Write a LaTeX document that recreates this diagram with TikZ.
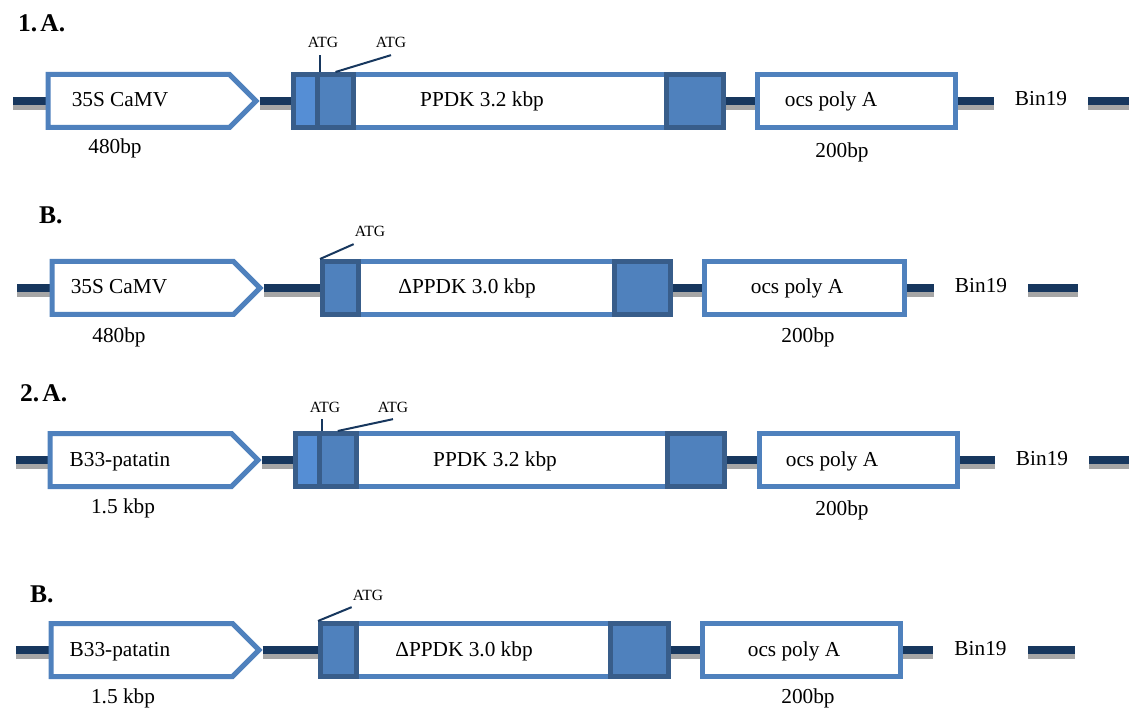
\documentclass[tikz,border=0pt]{standalone}
\usepackage{fontspec}
\setmainfont{Liberation Serif}
\usetikzlibrary{shapes.symbols,backgrounds}

\definecolor{dnanavy}{HTML}{17375E}
\definecolor{dnagrey}{HTML}{A6A6A6}
\definecolor{boxblue}{HTML}{4F81BD}
\definecolor{exonfill}{HTML}{4F81BD}
\definecolor{exonedge}{HTML}{385D8A}
\definecolor{exonlite}{HTML}{558ED5}

\tikzset{
  dna/.style={draw=dnanavy, line width=8pt,
    preaction={draw=dnagrey, line width=8pt, transform canvas={yshift=-5pt}}},
  promoter/.style={signal, signal to=east, draw=boxblue, line width=5pt, fill=white,
    minimum width=208pt, minimum height=53pt, inner sep=0pt, anchor=west},
  region/.style={rectangle, draw=boxblue, line width=5pt, fill=white,
    minimum height=53pt, inner sep=0pt},
  exon/.style={rectangle, draw=exonedge, fill=exonfill, line width=5pt,
    minimum height=53pt, inner sep=0pt},
  leader/.style={exon, fill=exonlite},
  lbl/.style={font=\fontsize{21.3}{25}\selectfont, inner sep=0pt, anchor=base},
  bin/.style={lbl, inner xsep=21pt},
  atg/.style={font=\fontsize{15.6}{18}\selectfont, inner sep=1pt, outer ysep=6pt, anchor=base},
  hdr/.style={font=\fontsize{25.5}{30}\selectfont\bfseries, inner sep=0pt, anchor=base west},
  tick/.style={draw=dnanavy, line width=2pt},
}

\begin{document}
\begin{tikzpicture}[x=1pt, y=-1pt]
  \useasboundingbox (0,0) rectangle (1129,708);

  % 1. A.
  \node[hdr] (h1) at (18,32) {1.\hspace{0.12em}A.};
  \node[promoter] (pro1) at (45.5,101) {};
  \node[region, minimum width=313pt] (gene1) at (510,101) {};
  \node[leader, minimum width=24pt] (lead1) at (305.5,101) {};
  \node[exon, minimum width=36pt] (start1) at (335.5,101) {};
  \node[exon, minimum width=57pt] (stop1) at (695,101) {};
  \node[region, minimum width=198pt] (ocs1) at (856.5,101) {};
  \node[lbl] (tp1) at (120,107) {35S CaMV};
  \node[lbl] (tg1) at (482,107) {PPDK 3.2 kbp};
  \node[lbl] (to1) at (831,107) {ocs poly A};
  \node[bin] (bin1) at (1041,106) {Bin19};
  \node[lbl] (sp1) at (115,154) {480bp};
  \node[lbl] (so1) at (842,158) {200bp};
  \node[atg] (atgA1) at (323,48) {ATG};
  \node[atg] (atgB1) at (391,48) {ATG};
  \coordinate (le1) at (13,101);
  \coordinate (re1) at (1129,101);
  \draw[tick] (lead1.north east) -- (lead1.north east |- atgA1.south);
  \draw[tick] (atgB1.south) -- (start1.north);

  % B.
  \node[hdr] (h2) at (39,224) {B.};
  \node[promoter] (pro2) at (49.5,288) {};
  \node[region, minimum width=256pt] (gene2) at (486.5,288) {};
  \node[exon, minimum width=36pt] (start2) at (340.5,288) {};
  \node[exon, minimum width=56pt] (stop2) at (642.5,288) {};
  \node[region, minimum width=200pt] (ocs2) at (804.5,288) {};
  \node[lbl] (tp2) at (119,294) {35S CaMV};
  \node[lbl] (tg2) at (467,294) {ΔPPDK 3.0 kbp};
  \node[lbl] (to2) at (797,294) {ocs poly A};
  \node[bin] (bin2) at (981,293) {Bin19};
  \node[lbl] (sp2) at (119,342) {480bp};
  \node[lbl] (so2) at (808,342) {200bp};
  \node[atg] (atgA2) at (370,237) {ATG};
  \coordinate (le2) at (17,288);
  \coordinate (re2) at (1078,288);
  \draw[tick] (atgA2.south west) -- (start2.north west);

  % 2. A.
  \node[hdr] (h3) at (20,401) {2.\hspace{0.12em}A.};
  \node[promoter] (pro3) at (47.5,460) {};
  \node[region, minimum width=311.5pt] (gene3) at (511.75,460) {};
  \node[leader, minimum width=24pt] (lead3) at (307.5,460) {};
  \node[exon, minimum width=36.5pt] (start3) at (337.75,460) {};
  \node[exon, minimum width=57pt] (stop3) at (696,460) {};
  \node[region, minimum width=198pt] (ocs3) at (858.5,460) {};
  \node[lbl] (tp3) at (120,466) {B33-patatin};
  \node[lbl] (tg3) at (495,466) {PPDK 3.2 kbp};
  \node[lbl] (to3) at (832,466) {ocs poly A};
  \node[bin] (bin3) at (1042,465) {Bin19};
  \node[lbl] (sp3) at (123,513) {1.5 kbp};
  \node[lbl] (so3) at (842,515) {200bp};
  \node[atg] (atgA3) at (325,412) {ATG};
  \node[atg] (atgB3) at (393,412) {ATG};
  \coordinate (le3) at (16,460);
  \coordinate (re3) at (1129,460);
  \draw[tick] (lead3.north east) -- (lead3.north east |- atgA3.south);
  \draw[tick] (atgB3.south) -- (start3.north);

  % B.
  \node[hdr] (h4) at (30,602) {B.};
  \node[promoter] (pro4) at (48.5,650) {};
  \node[region, minimum width=254pt] (gene4) at (483.5,650) {};
  \node[exon, minimum width=36pt] (start4) at (338.5,650) {};
  \node[exon, minimum width=58pt] (stop4) at (639.5,650) {};
  \node[region, minimum width=198pt] (ocs4) at (801.5,650) {};
  \node[lbl] (tp4) at (120,656) {B33-patatin};
  \node[lbl] (tg4) at (464,656) {ΔPPDK 3.0 kbp};
  \node[lbl] (to4) at (794,656) {ocs poly A};
  \node[bin] (bin4) at (980.5,655) {Bin19};
  \node[lbl] (sp4) at (123,703) {1.5 kbp};
  \node[lbl] (so4) at (808,703) {200bp};
  \node[atg] (atgA4) at (368,600) {ATG};
  \coordinate (le4) at (16,650);
  \coordinate (re4) at (1075,650);
  \draw[tick] (atgA4.south west) -- (start4.north west);

  % backbone
  \begin{scope}[on background layer]
    \draw[dna] (le1) -- (pro1.west);
    \draw[dna] (pro1.east) -- (lead1.west);
    \draw[dna] (stop1.east) -- (ocs1.west);
    \draw[dna] (ocs1.east) -- (ocs1.east -| bin1.west);
    \draw[dna] (bin1.east |- re1) -- (re1);
    \draw[dna] (le2) -- (pro2.west);
    \draw[dna] (pro2.east) -- (start2.west);
    \draw[dna] (stop2.east) -- (ocs2.west);
    \draw[dna] (ocs2.east) -- (ocs2.east -| bin2.west);
    \draw[dna] (bin2.east |- re2) -- (re2);
    \draw[dna] (le3) -- (pro3.west);
    \draw[dna] (pro3.east) -- (lead3.west);
    \draw[dna] (stop3.east) -- (ocs3.west);
    \draw[dna] (ocs3.east) -- (ocs3.east -| bin3.west);
    \draw[dna] (bin3.east |- re3) -- (re3);
    \draw[dna] (le4) -- (pro4.west);
    \draw[dna] (pro4.east) -- (start4.west);
    \draw[dna] (stop4.east) -- (ocs4.west);
    \draw[dna] (ocs4.east) -- (ocs4.east -| bin4.west);
    \draw[dna] (bin4.east |- re4) -- (re4);
  \end{scope}
\end{tikzpicture}
\end{document}
